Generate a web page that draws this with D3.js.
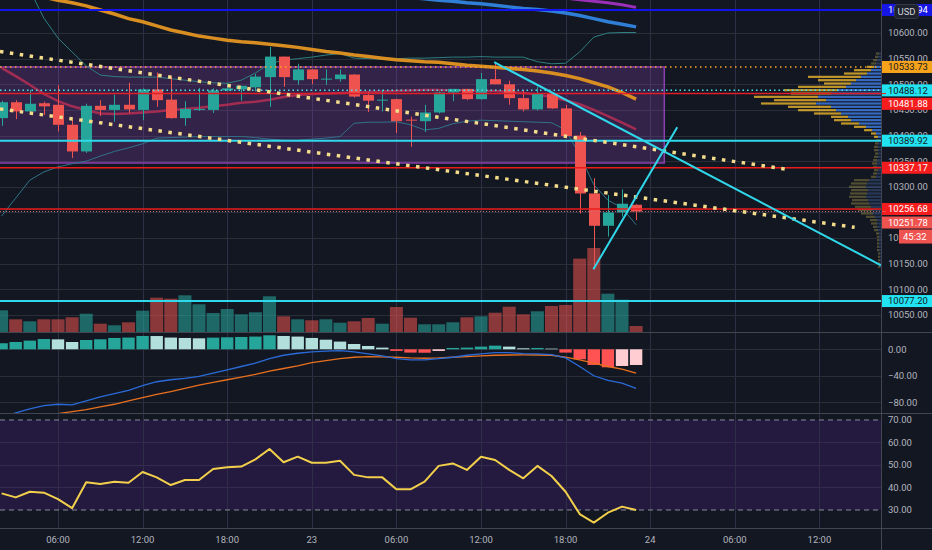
<!DOCTYPE html>
<html>
<head>
<meta charset="utf-8">
<script src="https://cdn.jsdelivr.net/npm/d3@7"></script>
<style>
  html, body { margin: 0; padding: 0; background: #131722; overflow: hidden; }
  svg { display: block; font-family: Roboto, "Liberation Sans", sans-serif; }
</style>
</head>
<body>
<svg id="chart" width="932" height="550"></svg>
<script>
// hourly BTCUSD bars, first bar 22 Sep 02:00, last bar 23 Sep 23:00
var firstBar = "2019-09-22T02:00Z";

var open  = [10434,10465,10447,10463,10460,10421,10369,10458,10450,10460,10450,10490,10470,10434,10450,10450,10488,10490,10494,10514,10554,10508,10529,10510,10510,10519,10479,10469,10471,10431,10428,10445,10484,10491,10471,10510,10500,10473,10451,10482,10453,10400,10287,10224,10250,10265];
var high  = [10468,10469,10489,10466,10498,10431,10462,10469,10480,10503,10492,10523,10514,10467,10493,10492,10502,10497,10520,10573,10554,10540,10529,10529,10529,10520,10485,10489,10472,10437,10460,10486,10491,10491,10522,10542,10507,10489,10495,10485,10460,10407,10317,10284,10295,10266];
var low   = [10419,10432,10444,10440,10408,10356,10366,10438,10427,10444,10430,10456,10433,10419,10448,10444,10486,10468,10486,10456,10495,10499,10500,10499,10505,10474,10446,10447,10405,10378,10407,10443,10467,10469,10470,10500,10460,10447,10449,10452,10398,10248,10139,10203,10242,10235];
var close = [10465,10447,10462,10457,10421,10369,10458,10450,10460,10451,10490,10469,10434,10452,10452,10488,10492,10497,10515,10554,10514,10529,10510,10511,10519,10476,10468,10470,10428,10430,10445,10484,10491,10471,10510,10500,10473,10451,10482,10453,10399,10287,10224,10250,10267,10251.78];
var volume = [868,508,428,508,508,588,732,332,268,388,852,1372,1332,1468,1108,760,920,708,788,1428,628,508,468,508,372,428,560,332,1000,572,308,308,388,588,628,772,1012,708,828,1040,1080,2936,3360,1532,1292,240];

// Bollinger bands and moving averages
var bbUpper = [10820,10752,10684,10629,10590,10563,10536,10518,10515,10514,10514,10514,10511,10508,10505,10503,10502,10508,10522,10540,10547,10550,10553,10557,10560,10551,10550,10549,10550,10551,10551,10552,10553,10553,10554,10553,10553,10553,10544,10540,10541,10563,10592,10600,10601,10601];
var bbBasis = [10532,10516,10499,10481,10467,10457,10450,10443,10442,10443,10445,10447,10450,10452,10454,10457,10460,10464,10466,10470,10475,10479,10481,10482,10483,10484,10485,10486,10487,10488,10489,10489,10488,10488,10487,10487,10485,10483,10480,10475,10469,10461,10450,10438,10425,10412];
var bbLower = [10243,10278,10313,10329,10339,10345,10350,10360,10369,10376,10384,10395,10396,10397,10398,10398,10398,10398,10396,10393,10391,10391,10393,10395,10398,10424,10426,10426,10427,10421,10411,10414,10423,10428,10430,10429,10428,10427,10426,10425,10411,10362,10304,10274,10259,10226];
var maOrange = [10688,10682,10676,10670,10664,10659,10653,10645,10637,10628,10622,10614,10606,10600,10594,10590,10586,10583,10581,10578,10575,10572,10568,10564,10561,10557,10554,10551,10548,10546,10544,10543,10540,10537,10535,10533,10531,10529,10526,10522,10517,10511,10503,10495,10484,10471];
var maBlueFrom = 28;   // bar index where the visible part starts
var maBlue = [10672,10669,10667,10664,10662,10659,10657,10654,10651,10648,10646,10643,10639,10634,10628,10622,10617,10612];
var maPurpleFrom = 38;
var maPurple = [10672,10670,10668,10665,10662,10659,10655,10650];

// MACD pane
var macdHist   = [9.1,11.0,13.1,15.5,15.0,11.0,14.0,15.1,17.1,17.7,20.1,20.0,17.7,17.1,16.6,17.6,18.1,18.6,19.2,21.1,20.1,19.2,17.1,14.5,11.6,8.0,5.0,2.5,-2.5,-5.0,-5.2,-2.5,2.0,2.5,4.0,5.5,4.0,1.5,2.0,1.0,-5.0,-15.1,-23.7,-27.2,-25.2,-23.7];
var macdLine   = [-103,-96,-90,-85,-83,-84,-78,-72,-67,-62,-55,-49,-46,-44,-41,-36,-31,-26,-21,-14,-9,-6,-4,-2.8,-2.1,-4,-7,-10,-14,-16,-16,-14,-12,-9,-7,-5,-5,-6.5,-7,-8,-13,-26,-40,-47,-51,-59];
var macdSignal = [-112,-108,-104,-100,-97,-94,-91,-87,-83,-78,-73,-68,-64,-59,-54,-50,-46,-42,-38,-33,-29,-25,-20,-17,-14,-12,-11,-11.5,-12,-13,-13.5,-13,-12,-11,-10,-9,-8.6,-8.5,-8.6,-9,-12,-16,-21,-26,-30,-36];

// RSI pane
var rsi = [37.4,35.6,38.1,37.7,34.8,30.8,42.3,41.6,42.6,42.1,46.9,44.5,41.1,43.3,43.3,48.2,49.0,49.3,52.5,57.1,51.2,53.7,51.0,51.0,51.9,45.6,44.5,44.5,39.2,39.2,42.6,49.6,50.7,47.8,53.7,52.2,47.8,44.1,49.6,45.1,38.1,28.2,24.4,28.8,31.5,30.0];

// visible range volume profile: rows from vpTop downwards, vpStep apart
var vpTop = 10560, vpStep = 6.5;
var vpUp   = [2,3,4,5,7,10,14,20,25,30,35,43,50,63,55,65,50,45,40,33,30,22,15,9,5,3,2,3,3,3,3,3,4,4,4,3,4,5,12,14,15,13,14,15,13,12,10,9,8,6,4,4,4,3,2,2,2,2,2,2,1,1,1,1,1];
var vpDown = [3,3,4,5,7,17,23,53,38,27,48,54,40,64,52,55,43,38,27,17,17,18,12,8,5,4,3,3,4,4,3,4,4,5,4,4,4,5,15,16,17,17,17,17,16,18,16,14,12,9,7,6,4,4,3,2,2,2,2,2,2,2,2,2,2];
var vaHigh = 10537, vaLow = 10394;

// drawn levels, trend lines and box
var levelPrices = [10644.94, 10533.73, 10488.12, 10481.88, 10389.92, 10337.17, 10256.68, 10077.20];
var lastPrice = 10251.78;
var countdown = "45:32";
var dotsUpper = [["2019-09-22T01:53Z", 10564], ["2019-09-24T09:42Z", 10334]];
var dotsLower = [["2019-09-22T01:53Z", 10452], ["2019-09-24T14:30Z", 10221]];
var cyanDown = [["2019-09-23T12:56Z", 10543], ["2019-09-24T16:22Z", 10147]];
var cyanUp   = [["2019-09-23T19:58Z", 10139], ["2019-09-24T01:55Z", 10416]];
var boxTime  = ["2019-09-21T20:00Z", "2019-09-24T01:00Z"];
var boxPrice = [10533.73, 10346.5];

var priceTicks = [10600, 10550, 10500, 10450, 10400, 10350, 10300, 10250, 10200, 10150, 10100, 10050];
var macdTicks = [0, -40, -80];
var rsiTicks = [70, 60, 50, 40, 30];

// ---- layout ----
var width = 932, height = 550;
var axisX = 881;
var mainBottom = 332, macdBottom = 413, rsiBottom = 528;
var hourMs = 3600e3;
var t0 = new Date(firstBar).getTime();
function barTime(i) { return new Date(t0 + i * hourMs); }

var x = d3.scaleUtc()
  .domain([new Date("2019-09-22T00:00Z"), new Date("2019-09-24T15:00Z")])
  .range([-26.6, 861.7]);
var y = d3.scaleLinear().domain([10016.8, 10664.4]).range([mainBottom, 0]);
var yVol = d3.scaleLinear().domain([0, 4000]).range([mainBottom, mainBottom - 100]);
var yMacd = d3.scaleLinear().domain([-96.2, 26.1]).range([macdBottom, mainBottom]);
var yRsi = d3.scaleLinear().domain([22, 73.1]).range([rsiBottom, macdBottom]);
var xVp = d3.scaleLinear().domain([0, 130]).range([axisX, axisX - 130]);

var upColor = "#26a69a", downColor = "#ef5350";
var fmt = d3.format(".2f");

var svg = d3.select("#chart");
svg.append("rect").attr("width", width).attr("height", height).attr("fill", "#131722");

var defs = svg.append("defs");
function clip(id, top, bottom) {
  defs.append("clipPath").attr("id", id).append("rect")
    .attr("x", 0).attr("y", top).attr("width", axisX).attr("height", bottom - top);
}
clip("clipMain", 0, mainBottom);
clip("clipMacd", mainBottom, macdBottom);
clip("clipRsi", macdBottom, rsiBottom);

// RSI band (under the grid)
svg.append("rect")
  .attr("x", 0).attr("width", axisX)
  .attr("y", yRsi(70)).attr("height", yRsi(30) - yRsi(70))
  .attr("fill", "#241a40");

// grid
var timeTicks = x.ticks(d3.utcHour.every(6)).filter(function (t) { return x(t) > 0 && x(t) < axisX; });
var grid = svg.append("g").attr("stroke", "#2a2e39").attr("stroke-width", 1);
grid.selectAll(".vg").data(timeTicks).enter().append("line")
  .attr("x1", function (d) { return Math.round(x(d)) + 0.5; })
  .attr("x2", function (d) { return Math.round(x(d)) + 0.5; })
  .attr("y1", 0).attr("y2", rsiBottom)
  .attr("stroke", "#2e2f45");
grid.selectAll(".pg").data(priceTicks).enter().append("line")
  .attr("x1", 0).attr("x2", axisX)
  .attr("y1", function (d) { return Math.round(y(d)) + 0.5; })
  .attr("y2", function (d) { return Math.round(y(d)) + 0.5; });
grid.selectAll(".mg").data(macdTicks).enter().append("line")
  .attr("x1", 0).attr("x2", axisX)
  .attr("y1", function (d) { return Math.round(yMacd(d)) + 0.5; })
  .attr("y2", function (d) { return Math.round(yMacd(d)) + 0.5; });
svg.selectAll(".rg").data([60, 50, 40]).enter().append("line")
  .attr("x1", 0).attr("x2", axisX)
  .attr("y1", function (d) { return Math.round(yRsi(d)) + 0.5; })
  .attr("y2", function (d) { return Math.round(yRsi(d)) + 0.5; })
  .attr("stroke", "#332c4f");
svg.selectAll(".rb").data([70, 30]).enter().append("line")
  .attr("x1", 0).attr("x2", axisX)
  .attr("y1", function (d) { return yRsi(d); })
  .attr("y2", function (d) { return yRsi(d); })
  .attr("stroke", "#8a8d96").attr("stroke-dasharray", "5,4");

// ---- main pane ----
var main = svg.append("g").attr("clip-path", "url(#clipMain)");

main.append("rect")
  .attr("x", x(new Date(boxTime[0]))).attr("width", x(new Date(boxTime[1])) - x(new Date(boxTime[0])))
  .attr("y", y(boxPrice[0])).attr("height", y(boxPrice[1]) - y(boxPrice[0]))
  .attr("fill", "rgba(150,70,190,0.25)")
  .attr("stroke", "#8a3fae").attr("stroke-width", 1.5);

// volume profile
var vpRows = vpUp.map(function (u, i) { return { price: vpTop - i * vpStep, up: u, down: vpDown[i] }; });
var vp = main.append("g");
vpRows.forEach(function (r) {
  var inVa = r.price <= vaHigh && r.price >= vaLow;
  var yc = y(r.price);
  vp.append("rect").attr("x", xVp(r.up)).attr("width", axisX - xVp(r.up))
    .attr("y", yc - 1.1).attr("height", 2.2)
    .attr("fill", inVa ? "rgba(66,135,245,0.75)" : "rgba(80,120,190,0.35)");
  vp.append("rect").attr("x", xVp(r.up + r.down)).attr("width", xVp(r.up) - xVp(r.up + r.down))
    .attr("y", yc - 1.1).attr("height", 2.2)
    .attr("fill", inVa ? "rgba(251,192,45,0.75)" : "rgba(200,180,80,0.35)");
});

// volume
main.selectAll(".vol").data(volume).enter().append("rect")
  .attr("x", function (d, i) { return x(barTime(i)) - 6.5; })
  .attr("width", 13)
  .attr("y", function (d) { return yVol(d); })
  .attr("height", function (d) { return mainBottom - yVol(d); })
  .attr("fill", function (d, i) { return close[i] >= open[i] ? "rgba(38,166,154,0.58)" : "rgba(239,83,80,0.55)"; });

function pathFor(values, offset, scale) {
  return d3.line()
    .x(function (d, i) { return x(barTime(i + offset)); })
    .y(function (d) { return scale(d); })(values);
}
main.append("path").attr("d", pathFor(bbUpper, 0, y)).attr("fill", "none").attr("stroke", "#2e7f80").attr("stroke-width", 1);
main.append("path").attr("d", pathFor(bbLower, 0, y)).attr("fill", "none").attr("stroke", "#2f7389").attr("stroke-width", 1);
main.append("path").attr("d", pathFor(bbBasis, 0, y)).attr("fill", "none").attr("stroke", "#a32c52").attr("stroke-width", 2.5);
main.append("path").attr("d", pathFor(maOrange, 0, y)).attr("fill", "none").attr("stroke", "#d98e22").attr("stroke-width", 3.5);
main.append("path").attr("d", pathFor(maBlue, maBlueFrom, y)).attr("fill", "none").attr("stroke", "#2f7fd6").attr("stroke-width", 3.5);
main.append("path").attr("d", pathFor(maPurple, maPurpleFrom, y)).attr("fill", "none").attr("stroke", "#9a2fb8").attr("stroke-width", 3);

// candles
var candles = main.selectAll(".candle").data(open).enter().append("g");
candles.append("line")
  .attr("x1", function (d, i) { return Math.round(x(barTime(i))) + 0.5; })
  .attr("x2", function (d, i) { return Math.round(x(barTime(i))) + 0.5; })
  .attr("y1", function (d, i) { return y(high[i]); })
  .attr("y2", function (d, i) { return y(low[i]); })
  .attr("stroke", function (d, i) { return close[i] >= open[i] ? upColor : downColor; });
candles.append("rect")
  .attr("x", function (d, i) { return Math.round(x(barTime(i))) - 5; })
  .attr("width", 11)
  .attr("y", function (d, i) { return y(Math.max(open[i], close[i])); })
  .attr("height", function (d, i) { return Math.max(1, Math.abs(y(open[i]) - y(close[i]))); })
  .attr("fill", function (d, i) { return close[i] >= open[i] ? upColor : downColor; });

// horizontal levels
var levelLook = [
  { color: "#1414ee", width: 2, dash: null },
  { color: "#ffa726", width: 1.5, dash: "1.5,3.5" },
  { color: "#4fe3f0", width: 1.5, dash: "1.5,3" },
  { color: "#e01e2a", width: 1.5, dash: null },
  { color: "#2fd8ea", width: 2, dash: null },
  { color: "#ee1b1b", width: 1.5, dash: null },
  { color: "#ee1b1b", width: 1.5, dash: null },
  { color: "#2fd8ea", width: 2, dash: null }
];
levelPrices.forEach(function (p, i) {
  main.append("line").attr("x1", 0).attr("x2", axisX)
    .attr("y1", y(p)).attr("y2", y(p))
    .attr("stroke", levelLook[i].color).attr("stroke-width", levelLook[i].width)
    .attr("stroke-dasharray", levelLook[i].dash);
});
main.append("line").attr("x1", 0).attr("x2", axisX)
  .attr("y1", y(lastPrice)).attr("y2", y(lastPrice))
  .attr("stroke", "#c86a7a").attr("stroke-width", 1).attr("stroke-dasharray", "1,2");

// trend lines
function seg(pts, color, w, dash) {
  main.append("line")
    .attr("x1", x(new Date(pts[0][0]))).attr("y1", y(pts[0][1]))
    .attr("x2", x(new Date(pts[1][0]))).attr("y2", y(pts[1][1]))
    .attr("stroke", color).attr("stroke-width", w).attr("stroke-dasharray", dash);
}
seg(dotsUpper, "#f3dc8a", 3.5, "3.5,6.5");
seg(dotsLower, "#f3dc8a", 3.5, "3.5,6.5");
seg(cyanDown, "#2fd8ea", 2, null);
seg(cyanUp, "#2fd8ea", 2, null);

// ---- MACD pane ----
var macd = svg.append("g").attr("clip-path", "url(#clipMacd)");
macd.selectAll(".hist").data(macdHist).enter().append("rect")
  .attr("x", function (d, i) { return x(barTime(i)) - 6.2; })
  .attr("width", 12.4)
  .attr("y", function (d) { return Math.min(yMacd(d), yMacd(0)); })
  .attr("height", function (d) { return Math.abs(yMacd(d) - yMacd(0)); })
  .attr("fill", function (d, i) {
    var prev = i > 0 ? macdHist[i - 1] : -Infinity;
    if (d >= 0) return d > prev ? "#26a69a" : "#b2dfdb";
    return d < prev ? "#ff5252" : "#ffcdd2";
  });
macd.append("path").attr("d", pathFor(macdSignal, 0, yMacd)).attr("fill", "none").attr("stroke", "#e8701e").attr("stroke-width", 1.3);
macd.append("path").attr("d", pathFor(macdLine, 0, yMacd)).attr("fill", "none").attr("stroke", "#2a6bd8").attr("stroke-width", 1.3);

// ---- RSI pane ----
var rsiG = svg.append("g").attr("clip-path", "url(#clipRsi)");
rsiG.append("path").attr("d", pathFor(rsi, 0, yRsi)).attr("fill", "none")
  .attr("stroke", "#f2d04b").attr("stroke-width", 2).attr("stroke-linejoin", "round");

// separators
var sep = svg.append("g").attr("stroke", "#434651").attr("stroke-width", 1);
[mainBottom, macdBottom, rsiBottom].forEach(function (v) {
  sep.append("line").attr("x1", 0).attr("x2", width).attr("y1", v + 0.5).attr("y2", v + 0.5);
});
sep.append("line").attr("x1", axisX + 0.5).attr("x2", axisX + 0.5).attr("y1", 0).attr("y2", height);

// ---- price labels with simple collision push-down ----
var labelLook = [
  { bg: "#1616e6", fg: "#ffffff" },
  { bg: "#f7a21b", fg: "#131722" },
  { bg: "#22e3f2", fg: "#131722" },
  { bg: "#f41c1c", fg: "#ffffff" },
  { bg: "#22e3f2", fg: "#131722" },
  { bg: "#f41c1c", fg: "#ffffff" },
  { bg: "#f41c1c", fg: "#ffffff" },
  { bg: "#22e3f2", fg: "#131722" }
];
var labels = levelPrices.map(function (p, i) { return { price: p, look: labelLook[i], text: fmt(p) }; });
labels.push({ price: lastPrice, look: { bg: "#ef5350", fg: "#ffffff" }, text: fmt(lastPrice), last: true });
labels.sort(function (a, b) { return b.price - a.price; });
var prevY = -Infinity;
labels.forEach(function (l) {
  l.y = Math.max(y(l.price), prevY + 13.5);
  prevY = l.y + (l.last ? 14 : 0);
});

// axis tick text; a tick hidden completely behind a label box is not drawn
function hidden(v) {
  return labels.some(function (l) { return Math.abs(l.y - v) < 4 || (l.last && Math.abs(l.y + 7 - v) < 4 && false); });
}
var axisText = svg.append("g").attr("font-size", "9.5px").attr("fill", "#b2b5be");
function tickText(values, scale) {
  axisText.selectAll(null).data(values.filter(function (d) { return !hidden(scale(d)) || scale !== y; })).enter().append("text")
    .attr("x", 888).attr("y", function (d) { return scale(d); }).attr("dy", "0.35em")
    .text(function (d) { return fmt(d); });
}
tickText(priceTicks, y);
tickText(macdTicks, yMacd);
tickText(rsiTicks, yRsi);

axisText.selectAll(".tt").data(timeTicks).enter().append("text")
  .attr("x", function (d) { return x(d); }).attr("y", 540).attr("dy", "0.35em")
  .attr("text-anchor", "middle")
  .text(function (d) { return d.getUTCHours() === 0 ? d3.utcFormat("%-d")(d) : d3.utcFormat("%H:%M")(d); });

var lab = svg.append("g").attr("font-size", "9.5px");
labels.forEach(function (l) {
  lab.append("rect").attr("x", axisX + 1).attr("y", l.y - 6).attr("width", width - axisX).attr("height", 12)
    .attr("fill", l.look.bg);
  lab.append("line").attr("x1", axisX + 1).attr("x2", axisX + 5).attr("y1", y(l.price)).attr("y2", y(l.price))
    .attr("stroke", l.look.bg);
  lab.append("text").attr("x", 888).attr("y", l.y).attr("dy", "0.35em")
    .attr("fill", l.look.fg).text(l.text);
  if (l.last) {
    lab.append("rect").attr("x", 899).attr("y", l.y + 7).attr("width", width - 899).attr("height", 14)
      .attr("fill", l.look.bg);
    lab.append("text").attr("x", 903).attr("y", l.y + 14).attr("dy", "0.35em")
      .attr("fill", "#ffffff").text(countdown);
  }
});

// currency button
svg.append("rect").attr("x", 894.5).attr("y", 4.5).attr("width", 24).attr("height", 14).attr("rx", 3)
  .attr("fill", "#1e222d").attr("stroke", "#363a45");
svg.append("text").attr("x", 906.5).attr("y", 11.5).attr("dy", "0.35em").attr("text-anchor", "middle")
  .attr("font-size", "9.5px").attr("fill", "#d1d4dc").text("USD");
</script>
</body>
</html>
